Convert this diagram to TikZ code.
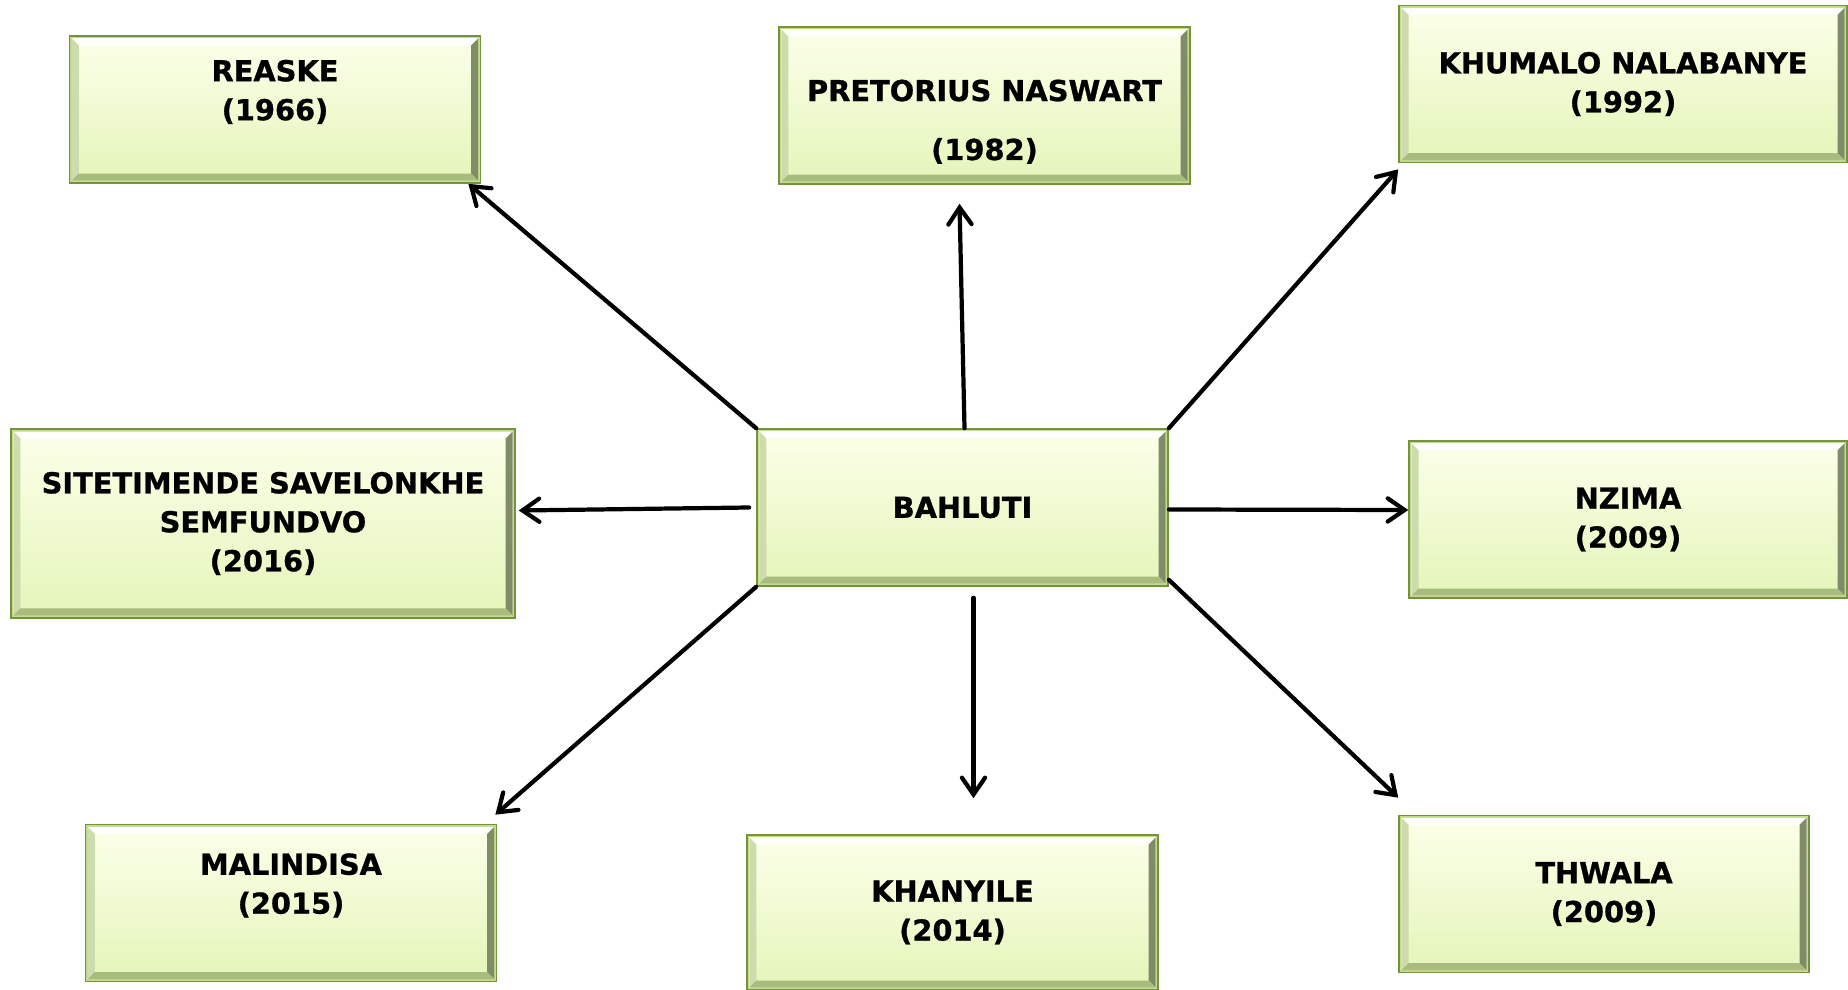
\documentclass[tikz,border=0pt]{standalone}
\usepackage{fontspec}
\setmainfont{DejaVu Sans}[BoldFeatures={FakeBold=0.9}]
\usepackage{tikz}
\usetikzlibrary{positioning, calc, arrows.meta}
\definecolor{bxEdge}{RGB}{118,146,60}
\definecolor{bxBand}{RGB}{195,220,140}
\definecolor{bxTop}{RGB}{252,255,234}
\definecolor{bxBottom}{RGB}{228,245,185}
\definecolor{bvLeft}{RGB}{205,220,172}
\definecolor{bvRight}{RGB}{128,140,104}
\definecolor{bvBottom}{RGB}{168,188,126}
\newcommand{\bvIn}{1.8pt}
\newcommand{\bvOut}{6.8pt}

\begin{document}
\begin{tikzpicture}[x=0.025cm, y=-0.025cm,
        bevelbox/.style={rectangle, draw=bxEdge, line width=1pt, top color=bxTop, bottom color=bxBottom,
          minimum width=10.28cm, minimum height=3.93cm, inner sep=0pt, align=center,
          font=\bfseries\fontsize{20.5}{27.7}\selectfont,
          path picture={
            \path (path picture bounding box.north west) coordinate (pNW)
                  (path picture bounding box.north east) coordinate (pNE)
                  (path picture bounding box.south west) coordinate (pSW)
                  (path picture bounding box.south east) coordinate (pSE);
            \draw[bxBand, line width=1.6pt] ($(pNW)+(1pt,-1pt)$) rectangle ($(pSE)+(-1pt,1pt)$);
            \fill[white, opacity=.9] ($(pNW)+(\bvIn,-\bvIn)$) -- ($(pNE)+(-\bvIn,-\bvIn)$) -- ($(pNE)+(-\bvOut,-\bvOut)$) -- ($(pNW)+(\bvOut,-\bvOut)$) -- cycle;
            \fill[bvLeft] ($(pNW)+(\bvIn,-\bvIn)$) -- ($(pSW)+(\bvIn,\bvIn)$) -- ($(pSW)+(\bvOut,\bvOut)$) -- ($(pNW)+(\bvOut,-\bvOut)$) -- cycle;
            \fill[bvRight] ($(pNE)+(-\bvIn,-\bvIn)$) -- ($(pSE)+(-\bvIn,\bvIn)$) -- ($(pSE)+(-\bvOut,\bvOut)$) -- ($(pNE)+(-\bvOut,-\bvOut)$) -- cycle;
            \fill[bvBottom] ($(pSW)+(\bvIn,\bvIn)$) -- ($(pSE)+(-\bvIn,\bvIn)$) -- ($(pSE)+(-\bvOut,\bvOut)$) -- ($(pSW)+(\bvOut,\bvOut)$) -- cycle;
          }},
        conn/.style={line width=3pt, line cap=round, -{Straight Barb[length=4.2mm, width=5.8mm, line cap=round]}}
      ]
        \useasboundingbox (0,0) rectangle (1848,990);
        \node[bevelbox] (bah) at (962.5,507.5) {BAHLUTI};
        \node[bevelbox, minimum height=3.68cm] (rea) at (275,109.5) {REASKE\\(1966)\\\mbox{}};
        \node[bevelbox] (pre) at (984.5,105.5) {\mbox{}\\[10.6pt]PRETORIUS NASWART\\[14.2pt](1982)};
        \node[bevelbox, minimum width=11.2cm] (khu) at (1623,84) {KHUMALO NALABANYE\\(1992)};
        \node[bevelbox, minimum width=12.6cm, minimum height=4.72cm] (sit) at (263,523.5) {SITETIMENDE SAVELONKHE\\SEMFUNDVO\\(2016)};
        \node[bevelbox, minimum width=10.95cm] (nzi) at (1628,519.5) {NZIMA\\(2009)};
        \node[bevelbox] (mal) at (291,903) {MALINDISA\\(2015)\\\mbox{}};
        \node[bevelbox, minimum height=3.88cm] (kha) at (952.5,912.5) {KHANYILE\\(2014)};
        \node[bevelbox, minimum width=10.25cm] (thw) at (1604,894) {THWALA\\(2009)};

        \draw[conn] (bah.north west) -- ($(rea.south east)+(-13,0)$);
        \draw[conn] ($(bah.north)+(2,0)$) -- ($(pre.south)+(-25,19)$);
        \draw[conn] (bah.north east) -- ($(khu.south west)+(0,6)$);
        \draw[conn] ($(bah.west)+(-7,0)$) -- ($(sit.east)+(3,-13)$);
        \draw[conn] ($(bah.east)+(0,2)$) -- ($(nzi.west)+(0,-9.5)$);
        \draw[conn] (bah.south west) -- ($(mal.north east)+(-2,-9)$);
        \draw[conn] ($(bah.south)+(11,11)$) -- ($(kha.north)+(21,-36)$);
        \draw[conn] ($(bah.south east)+(0,-7)$) -- ($(thw.north west)+(0,-17)$);
      \end{tikzpicture}
\end{document}
